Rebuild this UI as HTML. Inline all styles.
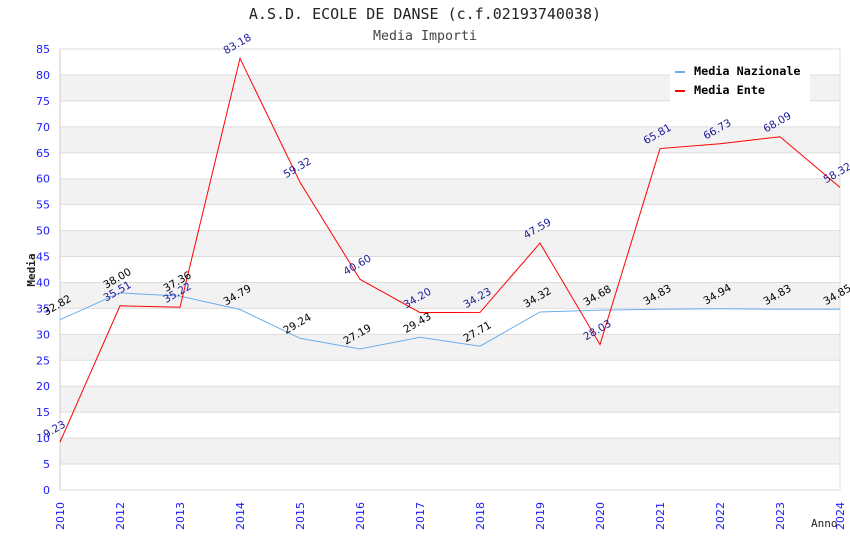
<!DOCTYPE html>
<html><head><meta charset="utf-8"><style>
body{margin:0;background:#fff;}
svg{display:block;}
</style></head><body>
<svg id="chart" width="850" height="550" xmlns="http://www.w3.org/2000/svg">
<text x="425" y="19" text-anchor="middle" font-family="DejaVu Sans Mono, monospace" font-size="15" fill="#222">A.S.D. ECOLE DE DANSE (c.f.02193740038)</text>
<text x="425" y="40" text-anchor="middle" font-family="DejaVu Sans Mono, monospace" font-size="13.3" fill="#444">Media Importi</text>
<g id="grid"></g>
<g id="axes"></g>
<g id="series"></g>
<g id="labels"></g>
<text x="35" y="270" text-anchor="middle" transform="rotate(-90 35 270)" font-family="DejaVu Sans Mono, monospace" font-size="11" font-weight="bold" fill="#222">Media</text>
<text x="811" y="527" font-family="DejaVu Sans Mono, monospace" font-size="11" fill="#222">Anno</text>
<g>
<rect x="670" y="58" width="140" height="44" fill="#fff"/>
<rect x="675" y="71" width="10" height="2" fill="#6aaeed"/>
<text x="694" y="75" font-family="DejaVu Sans Mono, monospace" font-size="11.8" font-weight="bold" fill="#000">Media Nazionale</text>
<rect x="675" y="90" width="10" height="2" fill="#ff0000"/>
<text x="694" y="94" font-family="DejaVu Sans Mono, monospace" font-size="11.8" font-weight="bold" fill="#000">Media Ente</text>
</g>
</svg>
<script>
const years = ["2010","2012","2013","2014","2015","2016","2017","2018","2019","2020","2021","2022","2023","2024"];
const nazionale = [32.82,38.00,37.36,34.79,29.24,27.19,29.43,27.71,34.32,34.68,34.83,34.94,34.83,34.85];
const ente = [9.23,35.51,35.22,83.18,59.32,40.60,34.20,34.23,47.59,28.03,65.81,66.73,68.09,58.32];
const yTicks = [0,5,10,15,20,25,30,35,40,45,50,55,60,65,70,75,80,85];

const NS="http://www.w3.org/2000/svg";
const X0=60,X1=840,Y0=490,Y1=49,YMAX=85;
const xs=i=>X0+i*(X1-X0)/(years.length-1);
const ys=v=>Y0-v*(Y0-Y1)/YMAX;
function mk(tag,attrs,parent,text){const e=document.createElementNS(NS,tag);for(const k in attrs)e.setAttribute(k,attrs[k]);if(text!==undefined)e.textContent=text;document.getElementById(parent).appendChild(e);return e;}

for(let i=0;i<yTicks.length-1;i++){
  if(i%2===1){
    const r=mk('rect',{x:X0,y:ys(yTicks[i+1]),width:X1-X0,height:ys(yTicks[i])-ys(yTicks[i+1]),fill:'#f2f2f2'},'grid');
    
    
  }
}
yTicks.forEach(t=>{
  const l=mk('line',{x1:X0,x2:X1,y1:ys(t),y2:ys(t),stroke:'#dddddd','stroke-width':1},'grid');
  
  
  const tx=mk('text',{x:50,y:ys(t)+4,'text-anchor':'end','font-family':'DejaVu Sans, sans-serif','font-size':11,fill:'#1a1aff'},'axes',String(t));
  
  
});
const va=mk('line',{x1:X0,x2:X0,y1:Y1,y2:Y0,stroke:'#ccc'},'axes');


const vr=mk('line',{x1:X1,x2:X1,y1:Y1,y2:Y0,stroke:'#ddd'},'axes');


years.forEach((y,i)=>{
  const x=xs(i);
  const t=mk('text',{x:x+4,y:530,'text-anchor':'start','font-family':'DejaVu Sans, sans-serif','font-size':11,fill:'#1a1aff',transform:`rotate(-90 ${x+4} 530)`},'axes',y);
  
  
});
function series(data,color,name,lblColor){
  const p=mk('polyline',{points:data.map((v,i)=>xs(i)+','+ys(v)).join(' '),fill:'none',stroke:color,'stroke-width':1},'series');
  
  
  data.forEach((v,i)=>{
    const x=xs(i)-14,y=ys(v)-4;
    const t=mk('text',{x:x,y:y,'font-family':'DejaVu Sans, sans-serif','font-size':10.5,fill:lblColor,transform:`rotate(-30 ${x} ${y})`},'labels',v.toFixed(2));
    
    
  });
}
series(nazionale,'#6aaeed','line-nazionale','#000');
series(ente,'#ff0000','line-ente','#1a1a99');
</script>
</body></html>
